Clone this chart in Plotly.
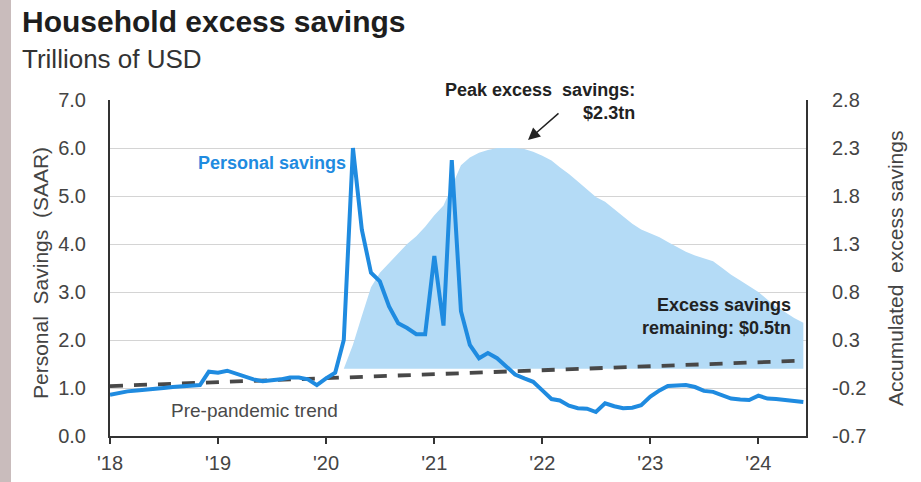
import pandas as pd
import plotly.graph_objects as go

# ---------------- data ----------------
months = pd.date_range("2018-01-01", "2024-06-01", freq="MS")

personal_savings = [
    # 2018
    0.86, 0.90, 0.93, 0.95, 0.96, 0.98, 1.00, 1.02, 1.04, 1.05, 1.06, 1.34,
    # 2019
    1.32, 1.36, 1.30, 1.24, 1.18, 1.14, 1.15, 1.18, 1.22, 1.22, 1.18, 1.06,
    # 2020
    1.20, 1.32, 2.00, 6.00, 4.30, 3.40, 3.22, 2.70, 2.35, 2.25, 2.12, 2.12,
    # 2021
    3.75, 2.30, 5.75, 2.60, 1.90, 1.62, 1.73, 1.62, 1.45, 1.28, 1.20, 1.13,
    # 2022
    0.95, 0.77, 0.74, 0.63, 0.58, 0.57, 0.50, 0.68, 0.62, 0.58, 0.59, 0.64,
    # 2023
    0.82, 0.95, 1.04, 1.06, 1.06, 1.02, 0.94, 0.92, 0.84, 0.78, 0.76, 0.75,
    # 2024
    0.84, 0.78, 0.77, 0.75, 0.74, 0.71,
]

excess_months = pd.date_range("2020-03-01", "2024-06-01", freq="MS")
excess_savings = [
    # 2020 (Mar-Dec)
    0.00, 0.25, 0.55, 0.85, 1.00, 1.10, 1.20, 1.30, 1.38, 1.48,
    # 2021
    1.60, 1.70, 1.90, 2.12, 2.20, 2.25, 2.28, 2.30, 2.30, 2.30, 2.29, 2.26,
    # 2022
    2.22, 2.17, 2.10, 2.03, 1.95, 1.87, 1.79, 1.74, 1.66, 1.58, 1.51, 1.45,
    # 2023
    1.41, 1.37, 1.32, 1.27, 1.22, 1.18, 1.15, 1.12, 1.05, 0.98, 0.92, 0.86,
    # 2024
    0.80, 0.72, 0.65, 0.59, 0.53, 0.48,
]

trend_dates = ["2018-01-01", "2019-01-01", "2020-01-01", "2021-01-01",
               "2022-01-01", "2023-01-01", "2024-01-01", "2024-06-01"]
trend_values = [1.04, 1.12, 1.20, 1.29, 1.36, 1.44, 1.52, 1.57]

x_tick_vals = ["2018-01-01", "2019-01-01", "2020-01-01", "2021-01-01",
               "2022-01-01", "2023-01-01", "2024-01-01"]
x_tick_text = ["'18", "'19", "'20", "'21", "'22", "'23", "'24"]

left_tick_vals = [0, 1, 2, 3, 4, 5, 6, 7]
left_tick_text = ["0.0", "1.0", "2.0", "3.0", "4.0", "5.0", "6.0", "7.0"]

right_tick_vals = [-0.7, -0.2, 0.3, 0.8, 1.3, 1.8, 2.3, 2.8]
right_tick_text = ["-0.7", "-0.2", "0.3", "0.8", "1.3", "1.8", "2.3", "2.8"]

# ---------------- layout geometry ----------------
W, H = 921, 482
ML, MR, MT, MB = 110, 115, 100, 46
PW, PH = W - ML - MR, H - MT - MB
PLOT_BOTTOM = H - MB


def px_x(px):
    return (px - ML) / PW


def px_y(py):
    return (PLOT_BOTTOM - py) / PH


FONT = "Liberation Sans, Arial, sans-serif"
BLUE = "#1f8be0"
AREA = "#b4dbf6"
DARK = "#333333"
GRID = "#d4d4d4"

fig = go.Figure()

# excess savings area (right axis, primary y)
fig.add_trace(go.Scatter(
    x=excess_months, y=excess_savings, yaxis="y",
    mode="lines", line=dict(width=0, color=AREA),
    fill="tozeroy", fillcolor=AREA, hoverinfo="skip", showlegend=False,
))

# pre-pandemic trend (left axis)
fig.add_trace(go.Scatter(
    x=trend_dates, y=trend_values, yaxis="y2",
    mode="lines", line=dict(color="#484848", width=3.8, dash="13px,11px"),
    showlegend=False,
))

# personal savings (left axis)
fig.add_trace(go.Scatter(
    x=months, y=personal_savings, yaxis="y2",
    mode="lines", line=dict(color=BLUE, width=4),
    showlegend=False,
))

fig.update_layout(
    width=W, height=H,
    margin=dict(l=ML, r=MR, t=MT, b=MB, autoexpand=False),
    paper_bgcolor="white", plot_bgcolor="white",
    font=dict(family=FONT, color="#444"),
    showlegend=False,
    xaxis=dict(
        type="date", range=["2018-01-01", "2024-06-10"],
        tickvals=x_tick_vals, ticktext=x_tick_text,
        ticks="outside", ticklen=6, tickwidth=2, tickcolor=DARK,
        ticklabelstandoff=2, automargin=False,
        showline=True, linecolor=DARK, linewidth=2,
        showgrid=False, zeroline=False,
        tickfont=dict(size=20, color="#444"),
    ),
    yaxis=dict(
        side="right", range=[-0.7, 2.8],
        tickvals=right_tick_vals, ticktext=right_tick_text,
        ticks="", showgrid=False, zeroline=False,
        showline=True, linecolor=DARK, linewidth=2,
        ticklabelstandoff=20, automargin=False,
        tickfont=dict(size=20, color="#444"),
    ),
    yaxis2=dict(
        side="left", overlaying="y", range=[0, 7],
        tickvals=left_tick_vals, ticktext=left_tick_text,
        ticks="", showgrid=True, gridcolor=GRID, gridwidth=1,
        zeroline=False,
        showline=True, linecolor=DARK, linewidth=2,
        ticklabelstandoff=18, automargin=False,
        tickfont=dict(size=20, color="#444"),
    ),
)

annotations = [
    dict(text="<b>Household excess savings</b>", x=px_x(20), y=px_y(22),
         xanchor="left", yanchor="middle",
         font=dict(size=30, color="#1e1e1e")),
    dict(text="Trillions of USD", x=px_x(20), y=px_y(59),
         xanchor="left", yanchor="middle",
         font=dict(size=26, color="#333")),
    dict(text="<b>Personal savings</b>", x=px_x(272), y=px_y(163),
         xanchor="center", yanchor="middle",
         font=dict(size=18, color=BLUE)),
    dict(text="Pre-pandemic trend", x=px_x(254), y=px_y(410),
         xanchor="center", yanchor="middle",
         font=dict(size=19, color="#4a4a4a")),
    dict(text="<b>Peak excess\u00a0 savings:</b><br><b>$2.3tn</b>",
         x=px_x(637), y=px_y(101), xanchor="right", yanchor="middle",
         align="right", font=dict(size=18, color="#222")),
    dict(text="", x=px_x(528), y=px_y(140), ax=32, ay=-28,
         showarrow=True, arrowhead=2, arrowsize=1.6, arrowwidth=1.5,
         arrowcolor="#222"),
    dict(text="<b>Excess savings</b><br><b>remaining: $0.5tn</b>",
         x=px_x(793), y=px_y(316), xanchor="right", yanchor="middle",
         align="right", font=dict(size=18, color="#222")),
    dict(text="Personal\u00a0 Savings\u00a0 (SAAR)", x=px_x(40), y=px_y(273),
         xanchor="center", yanchor="middle", textangle=-90,
         font=dict(size=21, color="#444")),
    dict(text="Accumulated\u00a0 excess savings", x=px_x(895), y=px_y(268),
         xanchor="center", yanchor="middle", textangle=-90,
         font=dict(size=21, color="#444")),
]
for a in annotations:
    a.setdefault("showarrow", False)
    a["xref"] = "paper"
    a["yref"] = "paper"
    fig.add_annotation(**a)

# left border strip (full height of the page)
fig.add_shape(type="rect", xref="paper", yref="paper",
              x0=px_x(0), x1=px_x(11), y0=px_y(H + 40), y1=px_y(-40),
              fillcolor="#c9bcbc", line=dict(width=0), layer="above")

fig.write_html("out.html")
